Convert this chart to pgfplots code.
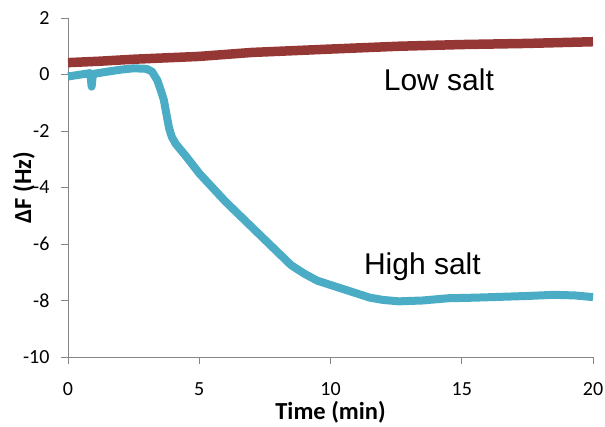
\documentclass[border=0pt]{standalone}
\usepackage{fontspec}
\setmainfont{Carlito}
\newfontfamily\arialf{Liberation Sans}
\usepackage{pgfplots}
\pgfplotsset{compat=1.18}
\definecolor{redl}{RGB}{149,55,53}
\definecolor{bluel}{RGB}{75,172,198}
\definecolor{axg}{RGB}{134,134,134}
\begin{document}
\begin{tikzpicture}
\useasboundingbox (-68pt,-70pt) rectangle (537pt,357pt);
\begin{axis}[
  scale only axis, width=525pt, height=339pt,
  xmin=0, xmax=20, ymin=-10, ymax=2,
  axis lines=left,
  axis line style={draw=axg, line width=0.8pt, -},
  tick style={draw=axg, line width=0.8pt},
  tick align=outside, major tick length=7pt,
  xtick={0,5,...,20}, ytick={-10,-8,...,2},
  xticklabels={0,5,10,15,20},
  yticklabels={-10,-8,-6,-4,-2,0,2},
  xticklabel style={font=\fontsize{20}{20}\selectfont, yshift=-15pt},
  yticklabel style={font=\fontsize{20}{20}\selectfont, xshift=-8pt},
  xlabel={\bfseries Time (min)},
  ylabel={\bfseries ΔF (Hz)},
  label style={font=\fontsize{24.5}{24.5}\selectfont},
  xlabel style={at={(axis description cs:0.5,0)}, anchor=center, yshift=-55pt},
  ylabel style={at={(axis description cs:0,0.5)}, anchor=center, yshift=44pt},
  clip=false,
]
\addplot[bluel, line width=8pt, line join=round, line cap=butt] coordinates {
(0,-0.07) (0.5,0.0) (0.85,0.05) (0.9,-0.43) (0.95,0.02) (1.5,0.1) (2.0,0.17)
(2.5,0.22) (3.0,0.2) (3.2,0.1) (3.4,-0.2) (3.55,-0.6) (3.65,-0.9) (3.75,-1.4)
(3.85,-1.9) (3.95,-2.2) (4.1,-2.45) (4.5,-2.9) (5,-3.5) (5.5,-4.0) (6,-4.5)
(6.5,-4.95) (7,-5.4) (7.5,-5.85) (8,-6.3) (8.5,-6.75) (9,-7.05) (9.5,-7.3)
(10,-7.45) (10.5,-7.6) (11,-7.75) (11.5,-7.9) (12,-7.98) (12.6,-8.03)
(13.5,-8.0) (14.5,-7.92) (15.5,-7.9) (16.5,-7.87) (17.5,-7.84) (18.5,-7.8)
(19.3,-7.82) (20,-7.88)
};
\addplot[redl, line width=9.5pt, line join=round, line cap=butt] coordinates {
(0,0.42) (1.2,0.47) (2.5,0.54) (5,0.64) (7,0.78) (10,0.9) (12.6,1.0)
(15,1.06) (17.5,1.1) (20,1.16)
};
\node[font=\arialf\fontsize{30}{30}\selectfont, anchor=base] at (axis cs:14.13,-0.57) {Low salt};
\node[font=\arialf\fontsize{30}{30}\selectfont, anchor=base] at (axis cs:13.5,-7.08) {High salt};
\end{axis}
\end{tikzpicture}
\end{document}
